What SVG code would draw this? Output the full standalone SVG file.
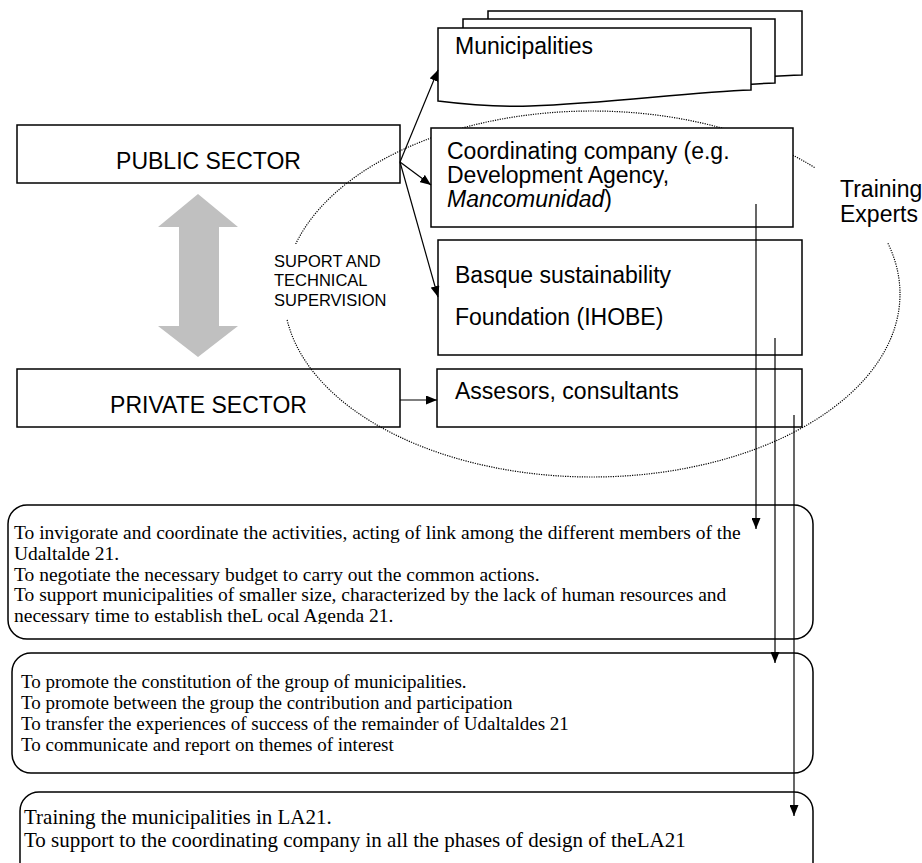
<svg xmlns="http://www.w3.org/2000/svg" width="922" height="863" viewBox="0 0 922 863">
<style>
.box{fill:#fff;stroke:#000;stroke-width:1.5}
.rbox{fill:#fff;stroke:#000;stroke-width:1.5}
.sans{font-family:"Liberation Sans",Arial,Helvetica,sans-serif;fill:#000}
.big{font-size:23px}
.small{font-size:16.5px}
.serif{font-family:"Liberation Serif","Times New Roman",serif;fill:#000}
.conn{stroke:#000;stroke-width:1.2;fill:none}
.dot{fill:none;stroke:#000;stroke-width:1.2;stroke-dasharray:1.2 1.2}
</style>
<defs>
<marker id="arr" markerUnits="userSpaceOnUse" markerWidth="11" markerHeight="9" refX="11" refY="4.5" orient="auto">
<path d="M0,0 L11,4.5 L0,9 Z" fill="#000"/>
</marker>
<clipPath id="clip1"><rect x="8" y="505" width="805" height="119"/></clipPath>
</defs>
<rect width="922" height="863" fill="#fff"/>

<g id="public-sector">
<rect class="box" x="17" y="125" width="383" height="58"/>
<text class="sans big" x="208.5" y="169" text-anchor="middle">PUBLIC SECTOR</text>
</g>
<g id="private-sector">
<rect class="box" x="17" y="369" width="383" height="58"/>
<text class="sans big" x="208.5" y="413" text-anchor="middle">PRIVATE SECTOR</text>
</g>

<g id="double-arrow">
<polygon points="198,194 238,227 219,227 219,326 238,326 198,357 158,326 179,326 179,227 158,227" fill="#c0c0c0"/>
</g>

<g id="training-experts-group">
<ellipse class="dot" cx="592" cy="294" rx="308" ry="183"/>
<rect x="815" y="160" width="107" height="83" fill="#fff"/>
<text class="sans big" x="840" y="197">Training</text>
<text class="sans big" x="840" y="222">Experts</text>
</g>

<g id="support-label">
<rect x="268" y="244" width="126" height="75" fill="#fff"/>
<text class="sans small" x="274" y="266.5">SUPORT AND</text>
<text class="sans small" x="274" y="286">TECHNICAL</text>
<text class="sans small" x="274" y="305.5">SUPERVISION</text>
</g>

<g id="municipalities">
<path class="box" d="M488,11 H802 V75 C740,77 660,86 570,90 C540,91 515,89 488,86 Z"/>
<path class="box" d="M463,19 H775 V83 C715,85 635,94 545,98 C515,99 490,97 463,94 Z"/>
<path class="box" d="M438,28 H751 V90 C690,92 610,103 530,106 C500,107 470,105 438,101 Z"/>
<text class="sans big" x="455" y="54">Municipalities</text>
</g>

<g id="coordinating-company">
<rect class="box" x="431" y="128" width="362" height="99"/>
<text class="sans big" x="447" y="159">Coordinating company (e.g.</text>
<text class="sans big" x="447" y="183">Development Agency,</text>
<text class="sans big" x="447" y="207"><tspan font-style="italic">Mancomunidad</tspan>)</text>
</g>

<g id="basque-foundation">
<rect class="box" x="438" y="240" width="364" height="115"/>
<text class="sans big" x="455" y="283">Basque sustainability</text>
<text class="sans big" x="455" y="325">Foundation (IHOBE)</text>
</g>

<g id="assessors">
<rect class="box" x="437" y="369" width="365" height="58"/>
<text class="sans big" x="455" y="399">Assesors, consultants</text>
</g>

<g id="task-box-1">
<rect class="rbox" x="8" y="505" width="805" height="134" rx="19" ry="19"/>
<g clip-path="url(#clip1)" class="serif" font-size="19.5">
<text x="14" y="539">To invigorate and coordinate the activities, acting of link among the different members of the</text>
<text x="14" y="560">Udaltalde 21.</text>
<text x="14" y="581">To negotiate the necessary budget to carry out the common actions.</text>
<text x="14" y="601">To support municipalities of smaller size, characterized by the lack of human resources and</text>
<text x="14" y="622">necessary time to establish theL ocal Agenda 21.</text>
</g>
</g>

<g id="task-box-2">
<rect class="rbox" x="12" y="653" width="801" height="120" rx="19" ry="19"/>
<g class="serif" font-size="19">
<text x="21" y="688">To promote the constitution of the group of municipalities.</text>
<text x="21" y="709">To promote between the group the contribution and participation</text>
<text x="21" y="730">To transfer the experiences of success of the remainder of Udaltaldes 21</text>
<text x="21" y="751">To communicate and report on themes of interest</text>
</g>
</g>

<g id="task-box-3">
<rect class="rbox" x="20" y="792" width="793" height="100" rx="19" ry="19"/>
<g class="serif" font-size="21">
<text x="24" y="824">Training the municipalities in LA21.</text>
<text x="24" y="847">To support to the coordinating company in all the phases of design of theLA21</text>
</g>
</g>

<g id="connectors">
<line class="conn" x1="400" y1="162" x2="438" y2="70" marker-end="url(#arr)"/>
<line class="conn" x1="400" y1="162" x2="431" y2="185" marker-end="url(#arr)"/>
<line class="conn" x1="400" y1="162" x2="438" y2="297" marker-end="url(#arr)"/>
<line class="conn" x1="400" y1="400" x2="437" y2="400" marker-end="url(#arr)"/>
<line class="conn" x1="756" y1="204" x2="756" y2="529" marker-end="url(#arr)"/>
<line class="conn" x1="775" y1="338" x2="775" y2="663" marker-end="url(#arr)"/>
<line class="conn" x1="794" y1="415" x2="794" y2="816" marker-end="url(#arr)"/>
</g>
</svg>
